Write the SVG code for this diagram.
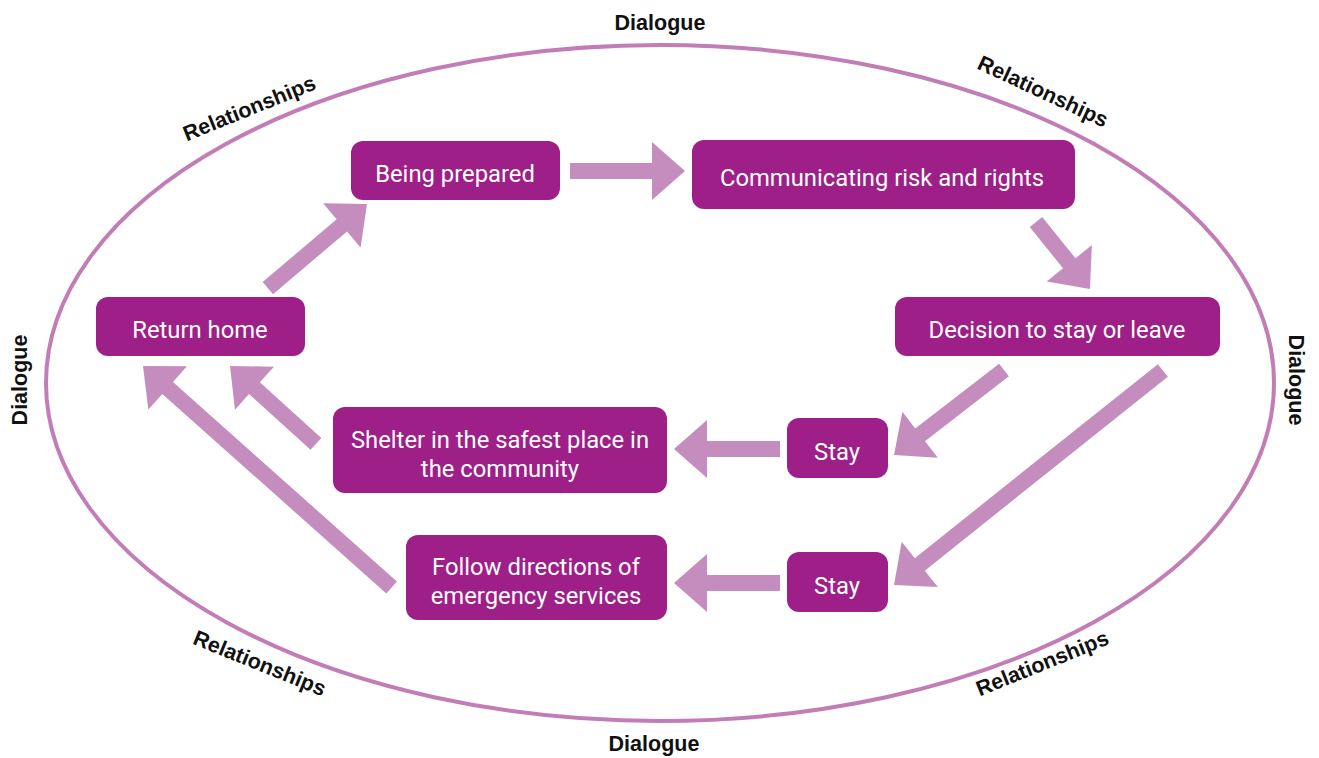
<svg xmlns="http://www.w3.org/2000/svg" width="1319" height="758" viewBox="0 0 1319 758">
  <style>
    .box { fill: #9e1f88; }
    .btxt { fill: #ffffff; font-family: Roboto, "Liberation Sans", sans-serif; font-size: 23.8px; text-anchor: middle; }
    .lbl { fill: #111111; font-family: "Liberation Sans", Arial, sans-serif; font-weight: bold; font-size: 21.5px; text-anchor: middle; }
    .arrow { fill: #c48dbd; }
  </style>

  <rect width="1319" height="758" fill="#ffffff"/>

  <!-- outer boundary -->
  <ellipse cx="660" cy="383" rx="614" ry="338" fill="none" stroke="#c27db6" stroke-width="4"/>

  <!-- boundary labels -->
  <g id="labels">
    <text class="lbl" x="660" y="30">Dialogue</text>
    <text class="lbl" x="654" y="751">Dialogue</text>
    <text class="lbl" transform="translate(27,380) rotate(-90)">Dialogue</text>
    <text class="lbl" transform="translate(1289,380) rotate(90)">Dialogue</text>
    <text class="lbl" transform="translate(252,115) rotate(-22)">Relationships</text>
    <text class="lbl" transform="translate(1040,98) rotate(25)">Relationships</text>
    <text class="lbl" transform="translate(257,670) rotate(22)">Relationships</text>
    <text class="lbl" transform="translate(1045,670) rotate(-22)">Relationships</text>
  </g>

  <!-- connectors: block arrows, tip at the translate point, shaft running back along -x -->
  <g id="connectors" class="arrow">
    <!-- Being prepared -> Communicating risk and rights -->
    <polygon transform="translate(685,171) rotate(0)" points="0,0 -33,-29 -33,-8 -115,-8 -115,8 -33,8 -33,29"/>
    <!-- Communicating -> Decision -->
    <polygon transform="translate(1090,289) rotate(51.1)" points="0,0 -33,-29 -33,-8 -86,-8 -86,8 -33,8 -33,29"/>
    <!-- Return home -> Being prepared -->
    <polygon transform="translate(367,204) rotate(-40.3)" points="0,0 -33,-29 -33,-8 -130,-8 -130,8 -33,8 -33,29"/>
    <!-- Decision -> Stay (upper) -->
    <polygon transform="translate(894,455) rotate(142.3)" points="0,0 -33,-29 -33,-8 -139,-8 -139,8 -33,8 -33,29"/>
    <!-- Decision -> Stay (lower) -->
    <polygon transform="translate(894,585) rotate(141.4)" points="0,0 -33,-29 -33,-8 -344,-8 -344,8 -33,8 -33,29"/>
    <!-- Stay (upper) -> Shelter -->
    <polygon transform="translate(674,449) rotate(180)" points="0,0 -33,-29 -33,-8 -106,-8 -106,8 -33,8 -33,29"/>
    <!-- Stay (lower) -> Follow directions -->
    <polygon transform="translate(674,583) rotate(180)" points="0,0 -33,-29 -33,-8 -106,-8 -106,8 -33,8 -33,29"/>
    <!-- Shelter -> Return home -->
    <polygon transform="translate(230,366) rotate(222.2)" points="0,0 -33,-29 -33,-8 -116,-8 -116,8 -33,8 -33,29"/>
    <!-- Follow directions -> Return home -->
    <polygon transform="translate(143,366) rotate(221.7)" points="0,0 -33,-29 -33,-8 -333,-8 -333,8 -33,8 -33,29"/>
  </g>

  <!-- nodes -->
  <g id="being-prepared">
    <rect class="box" x="351" y="141" width="209" height="59" rx="12"/>
    <text class="btxt" x="455" y="182">Being prepared</text>
  </g>
  <g id="communicating">
    <rect class="box" x="692" y="140" width="383" height="69" rx="12"/>
    <text class="btxt" x="882" y="186">Communicating risk and rights</text>
  </g>
  <g id="decision">
    <rect class="box" x="895" y="297" width="325" height="59" rx="12"/>
    <text class="btxt" x="1057" y="338">Decision to stay or leave</text>
  </g>
  <g id="return-home">
    <rect class="box" x="96" y="297" width="209" height="59" rx="12"/>
    <text class="btxt" x="200" y="338">Return home</text>
  </g>
  <g id="shelter">
    <rect class="box" x="333" y="407" width="334" height="86" rx="12"/>
    <text class="btxt" x="500" y="448">Shelter in the safest place in</text>
    <text class="btxt" x="500" y="477">the community</text>
  </g>
  <g id="stay-upper">
    <rect class="box" x="787" y="418" width="101" height="60" rx="12"/>
    <text class="btxt" x="837" y="460">Stay</text>
  </g>
  <g id="follow-directions">
    <rect class="box" x="406" y="535" width="261" height="85" rx="12"/>
    <text class="btxt" x="536" y="575">Follow directions of</text>
    <text class="btxt" x="536" y="604">emergency services</text>
  </g>
  <g id="stay-lower">
    <rect class="box" x="787" y="552" width="101" height="60" rx="12"/>
    <text class="btxt" x="837" y="594">Stay</text>
  </g>
</svg>
